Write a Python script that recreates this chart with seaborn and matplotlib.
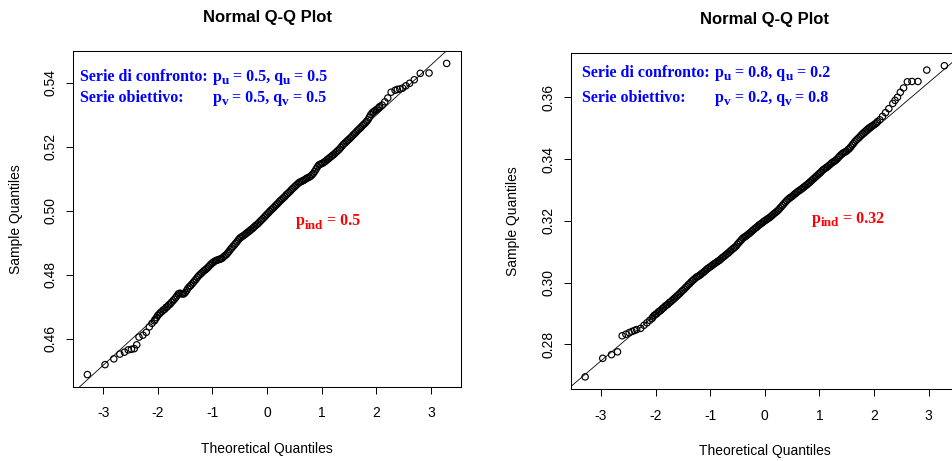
import matplotlib
matplotlib.use("Agg")
import matplotlib.pyplot as plt
from matplotlib.transforms import offset_copy
import seaborn as sns
import pandas as pd

# ---------------- data ----------------
# theoretical normal quantiles (shared by both panels, n = 1000)
theo_lower = [-3.291, -2.968, -2.807, -2.697, -2.612, -2.543, -2.484, -2.432,
              -2.387, -2.346, -2.273, -2.212, -2.157, -2.108, -2.064]
theo_mid = [
    -2.050, -2.025, -2.000, -1.975, -1.950, -1.925, -1.900, -1.875, -1.850, -1.825,
    -1.800, -1.775, -1.750, -1.725, -1.700, -1.675, -1.650, -1.625, -1.600, -1.575,
    -1.550, -1.525, -1.500, -1.475, -1.450, -1.425, -1.400, -1.375, -1.350, -1.325,
    -1.300, -1.275, -1.250, -1.225, -1.200, -1.175, -1.150, -1.125, -1.100, -1.075,
    -1.050, -1.025, -1.000, -0.975, -0.950, -0.925, -0.900, -0.875, -0.850, -0.825,
    -0.800, -0.775, -0.750, -0.725, -0.700, -0.675, -0.650, -0.625, -0.600, -0.575,
    -0.550, -0.525, -0.500, -0.475, -0.450, -0.425, -0.400, -0.375, -0.350, -0.325,
    -0.300, -0.275, -0.250, -0.225, -0.200, -0.175, -0.150, -0.125, -0.100, -0.075,
    -0.050, -0.025, 0.000, 0.025, 0.050, 0.075, 0.100, 0.125, 0.150, 0.175,
    0.200, 0.225, 0.250, 0.275, 0.300, 0.325, 0.350, 0.375, 0.400, 0.425,
    0.450, 0.475, 0.500, 0.525, 0.550, 0.575, 0.600, 0.625, 0.650, 0.675,
    0.700, 0.725, 0.750, 0.775, 0.800, 0.825, 0.850, 0.875, 0.900, 0.925,
    0.950, 0.975, 1.000, 1.025, 1.050, 1.075, 1.100, 1.125, 1.150, 1.175,
    1.200, 1.225, 1.250, 1.275, 1.300, 1.325, 1.350, 1.375, 1.400, 1.425,
    1.450, 1.475, 1.500, 1.525, 1.550, 1.575, 1.600, 1.625, 1.650, 1.675,
    1.700, 1.725, 1.750, 1.775, 1.800, 1.825, 1.850, 1.875, 1.900, 1.925,
    1.950, 1.975, 2.000, 2.025, 2.050]
theo_upper = [2.064, 2.108, 2.157, 2.212, 2.273, 2.346, 2.387, 2.432,
              2.484, 2.543, 2.612, 2.697, 2.807, 2.968, 3.291]

# left panel sample quantiles
left_lower = [0.4488, 0.4519, 0.4537, 0.4552, 0.4558, 0.4565, 0.4567, 0.4569,
              0.4581, 0.4605, 0.4611, 0.4620, 0.4637, 0.4648, 0.4656]
left_mid = [
    0.4660, 0.4666, 0.4673, 0.4677, 0.4682, 0.4685, 0.4690, 0.4692, 0.4698, 0.4700,
    0.4706, 0.4708, 0.4714, 0.4718, 0.4723, 0.4728, 0.4734, 0.4740, 0.4742, 0.4741,
    0.4740, 0.4740, 0.4744, 0.4750, 0.4757, 0.4762, 0.4766, 0.4771, 0.4776, 0.4781,
    0.4786, 0.4792, 0.4797, 0.4801, 0.4805, 0.4809, 0.4813, 0.4816, 0.4820, 0.4824,
    0.4829, 0.4833, 0.4837, 0.4840, 0.4843, 0.4845, 0.4846, 0.4848, 0.4849, 0.4851,
    0.4855, 0.4859, 0.4862, 0.4867, 0.4872, 0.4878, 0.4883, 0.4888, 0.4893, 0.4898,
    0.4903, 0.4909, 0.4914, 0.4917, 0.4920, 0.4923, 0.4926, 0.4930, 0.4933, 0.4936,
    0.4940, 0.4943, 0.4947, 0.4951, 0.4955, 0.4958, 0.4962, 0.4967, 0.4971, 0.4975,
    0.4980, 0.4984, 0.4989, 0.4993, 0.4998, 0.5002, 0.5006, 0.5010, 0.5015, 0.5019,
    0.5023, 0.5028, 0.5032, 0.5036, 0.5040, 0.5044, 0.5049, 0.5053, 0.5057, 0.5061,
    0.5066, 0.5070, 0.5074, 0.5078, 0.5082, 0.5086, 0.5089, 0.5091, 0.5093, 0.5095,
    0.5098, 0.5101, 0.5103, 0.5105, 0.5108, 0.5112, 0.5117, 0.5123, 0.5130, 0.5137,
    0.5143, 0.5145, 0.5147, 0.5149, 0.5152, 0.5155, 0.5159, 0.5162, 0.5166, 0.5169,
    0.5173, 0.5176, 0.5180, 0.5184, 0.5188, 0.5192, 0.5197, 0.5202, 0.5207, 0.5211,
    0.5215, 0.5219, 0.5223, 0.5227, 0.5231, 0.5236, 0.5240, 0.5244, 0.5249, 0.5253,
    0.5257, 0.5261, 0.5266, 0.5270, 0.5274, 0.5279, 0.5284, 0.5292, 0.5300, 0.5305,
    0.5309, 0.5312, 0.5315, 0.5318, 0.5322]
left_upper = [0.5325, 0.5330, 0.5340, 0.5352, 0.5370, 0.5376, 0.5379, 0.5380,
              0.5383, 0.5390, 0.5398, 0.5409, 0.5429, 0.5430, 0.5460]

# right panel sample quantiles
right_lower = [0.2695, 0.2755, 0.2767, 0.2776, 0.2828, 0.2833, 0.2838, 0.2842,
               0.2845, 0.2848, 0.2852, 0.2862, 0.2870, 0.2878, 0.2884]
right_mid = [
    0.2889, 0.2894, 0.2897, 0.2900, 0.2905, 0.2908, 0.2911, 0.2916, 0.2919, 0.2924,
    0.2927, 0.2930, 0.2935, 0.2938, 0.2942, 0.2946, 0.2950, 0.2954, 0.2958, 0.2962,
    0.2966, 0.2971, 0.2975, 0.2979, 0.2984, 0.2988, 0.2993, 0.2997, 0.3002, 0.3006,
    0.3010, 0.3014, 0.3018, 0.3020, 0.3023, 0.3026, 0.3030, 0.3033, 0.3037, 0.3041,
    0.3045, 0.3048, 0.3051, 0.3054, 0.3058, 0.3061, 0.3064, 0.3067, 0.3070, 0.3073,
    0.3077, 0.3081, 0.3084, 0.3088, 0.3092, 0.3095, 0.3099, 0.3103, 0.3107, 0.3111,
    0.3114, 0.3118, 0.3124, 0.3129, 0.3134, 0.3139, 0.3144, 0.3147, 0.3150, 0.3153,
    0.3157, 0.3160, 0.3164, 0.3168, 0.3172, 0.3176, 0.3179, 0.3183, 0.3187, 0.3190,
    0.3193, 0.3197, 0.3200, 0.3203, 0.3206, 0.3209, 0.3212, 0.3216, 0.3220, 0.3224,
    0.3227, 0.3231, 0.3235, 0.3240, 0.3245, 0.3250, 0.3255, 0.3260, 0.3265, 0.3269,
    0.3273, 0.3276, 0.3279, 0.3283, 0.3287, 0.3290, 0.3294, 0.3297, 0.3300, 0.3303,
    0.3307, 0.3310, 0.3314, 0.3317, 0.3321, 0.3325, 0.3329, 0.3333, 0.3337, 0.3341,
    0.3345, 0.3349, 0.3353, 0.3357, 0.3362, 0.3366, 0.3369, 0.3372, 0.3375, 0.3379,
    0.3383, 0.3387, 0.3390, 0.3393, 0.3396, 0.3400, 0.3405, 0.3410, 0.3414, 0.3418,
    0.3421, 0.3423, 0.3426, 0.3430, 0.3434, 0.3439, 0.3445, 0.3450, 0.3456, 0.3461,
    0.3465, 0.3469, 0.3474, 0.3479, 0.3483, 0.3487, 0.3491, 0.3495, 0.3499, 0.3502,
    0.3505, 0.3508, 0.3511, 0.3514, 0.3517]
right_upper = [0.3521, 0.3527, 0.3538, 0.3550, 0.3563, 0.3580, 0.3590, 0.3600,
               0.3616, 0.3630, 0.3650, 0.3651, 0.3651, 0.3688, 0.3702]

# qqline (through the quartiles)
left_line = (0.4986, 0.01562)    # intercept, slope
right_line = (0.3197, 0.01501)

x_ticks = [-3, -2, -1, 0, 1, 2, 3]
left_yticks = [0.46, 0.48, 0.50, 0.52, 0.54]
right_yticks = [0.28, 0.30, 0.32, 0.34, 0.36]

title_text = "Normal Q-Q Plot"
xlabel_text = "Theoretical Quantiles"
ylabel_text = "Sample Quantiles"
# annotation pieces: (text, is_subscript)
left_line1 = [("p", False), ("u", True), (" = 0.5, q", False), ("u", True), (" = 0.5", False)]
left_line2 = [("p", False), ("v", True), (" = 0.5, q", False), ("v", True), (" = 0.5", False)]
left_ind = [("p", False), ("ind", True), (" = 0.5", False)]
right_line1 = [("p", False), ("u", True), (" = 0.8, q", False), ("u", True), (" = 0.2", False)]
right_line2 = [("p", False), ("v", True), (" = 0.2, q", False), ("v", True), (" = 0.8", False)]
right_ind = [("p", False), ("ind", True), (" = 0.32", False)]
head1 = "Serie di confronto:"
head2 = "Serie obiettivo:"

# ---------------- style ----------------
sns.set_theme(style="white")
plt.rcParams['font.family'] = ['Liberation Sans', 'DejaVu Sans']

theo = theo_lower + theo_mid + theo_upper
df_left = pd.DataFrame({"theo": theo, "sample": left_lower + left_mid + left_upper})
df_right = pd.DataFrame({"theo": theo, "sample": right_lower + right_mid + right_upper})


def r_lim(vals):
    lo, hi = min(vals), max(vals)
    pad = 0.04 * (hi - lo)
    return lo - pad, hi + pad


fig = plt.figure(figsize=(9.52, 4.61), dpi=100)
ax_l = fig.add_axes([0.0767, 0.1605, 0.4076, 0.7289])
ax_r = fig.add_axes([0.5995, 0.1555, 0.4076, 0.7289])
renderer = fig.canvas.get_renderer()

serif = ['Liberation Serif', 'DejaVu Serif']
MAIN_FS = 11.5
SUB_FS = 9.5
SUB_DROP = 3.5  # pixels


def rich_text(ax, x, y, pieces, color):
    dx = 0.0
    for txt, sub in pieces:
        tr = offset_copy(ax.transAxes, fig=fig, x=dx,
                         y=-SUB_DROP if sub else 0.0, units='dots')
        t = ax.text(x, y, txt, transform=tr, family=serif, fontweight='bold',
                    fontsize=SUB_FS if sub else MAIN_FS, color=color,
                    ha='left', va='baseline')
        dx += t.get_window_extent(renderer).width


panels = [
    (ax_l, df_left, left_line, left_yticks, (left_line1, left_line2, left_ind),
     (0.018, 0.360), (0.911, 0.849), (0.575, 0.482)),
    (ax_r, df_right, right_line, right_yticks, (right_line1, right_line2, right_ind),
     (0.029, 0.372), (0.930, 0.856), (0.622, 0.496)),
]

for ax, df, (b0, b1), yt, (l1, l2, lind), (tx1, tx2), (ty1, ty2), (rx, ry) in panels:
    sns.scatterplot(data=df, x="theo", y="sample", ax=ax, marker='o',
                    facecolors='none', edgecolor='black', s=21, linewidth=0.85,
                    zorder=3)
    ax.axline((0, b0), slope=b1, color='black', lw=0.6, zorder=2)
    ax.set_xlim(*r_lim(df["theo"]))
    ax.set_ylim(*r_lim(df["sample"]))
    ax.set_xticks(x_ticks)
    ax.set_xticklabels([str(t) for t in x_ticks])
    ax.set_yticks(yt)
    ax.set_yticklabels([f"{t:.2f}" for t in yt])
    ax.tick_params(axis='x', bottom=True, direction='out', length=5, width=0.7,
                   color='black', labelsize=10, pad=9, labelcolor='black')
    ax.tick_params(axis='y', left=True, direction='out', length=5, width=0.7,
                   color='black', labelsize=10, pad=6, labelrotation=90,
                   labelcolor='black')
    for lab in ax.get_yticklabels():
        lab.set_va('center')
    for sp in ax.spines.values():
        sp.set_color('black')
        sp.set_linewidth(0.75)
    ax.grid(False)
    ax.set_xlabel(xlabel_text, fontsize=10, color='black')
    ax.set_ylabel(ylabel_text, fontsize=10, color='black')
    ax.xaxis.set_label_coords(0.5, -0.183)
    ax.xaxis.label.set_va('center')
    ax.yaxis.set_label_coords(-0.148, 0.5)
    ax.yaxis.label.set_va('center')
    ax.yaxis.label.set_ha('center')
    ax.text(0.5, 1.101, title_text, transform=ax.transAxes, ha='center',
            va='center', fontsize=12, fontweight='bold', color='black')
    # annotations
    style = dict(transform=ax.transAxes, family=serif, fontweight='bold',
                 fontsize=MAIN_FS, ha='left', va='baseline', color='#0000FF')
    ax.text(tx1, ty1, head1, **style)
    ax.text(tx1, ty2, head2, **style)
    rich_text(ax, tx2, ty1, l1, '#0000FF')
    rich_text(ax, tx2, ty2, l2, '#0000FF')
    rich_text(ax, rx, ry, lind, '#FF0000')

fig.savefig("out.png", dpi=100)
